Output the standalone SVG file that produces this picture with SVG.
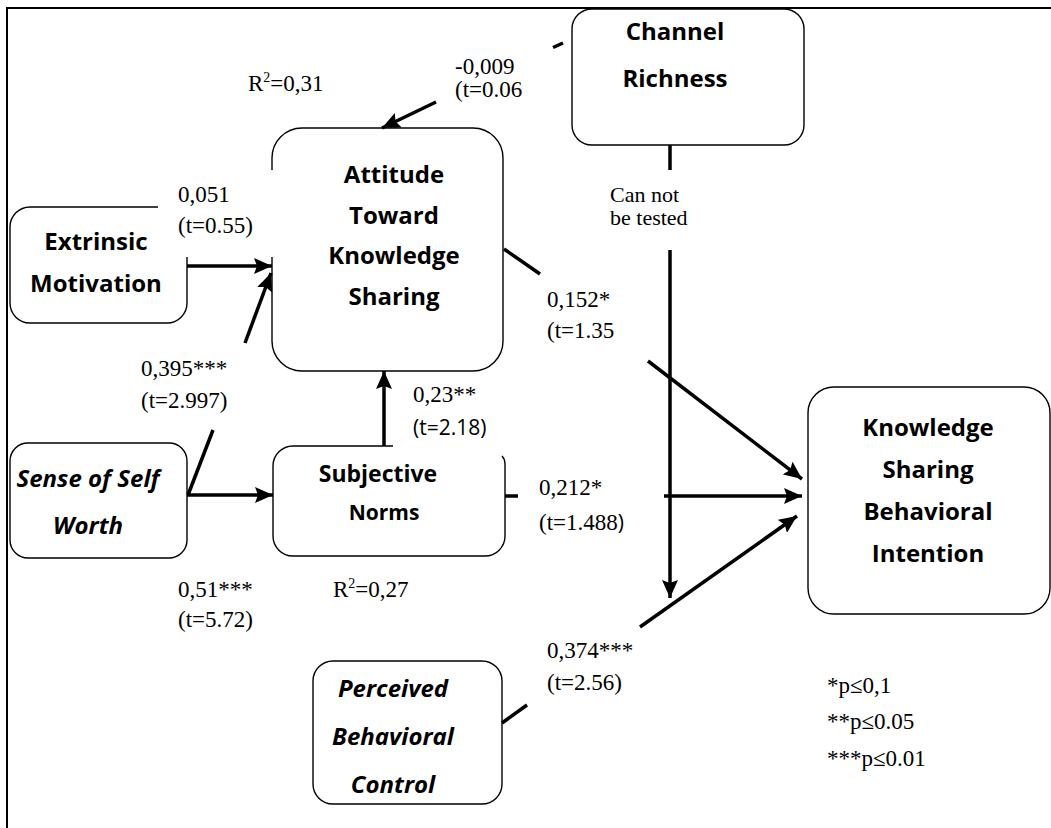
<svg xmlns="http://www.w3.org/2000/svg" width="1051" height="828" viewBox="0 0 1051 828">
<style>
.box{fill:#fff;stroke:#000;stroke-width:1.4}
.brd{fill:none;stroke:#000;stroke-width:1.4}
.lbl{font-family:"Open Sans","Noto Sans",sans-serif;font-weight:700;font-size:24px;fill:#000;text-anchor:middle}
.it{font-style:italic}
.num{font-family:"Liberation Serif","Times New Roman",serif;font-size:23px;fill:#000}
.sans{font-family:"Open Sans","Noto Sans",sans-serif;font-size:21px;fill:#000}
.ln{fill:none;stroke:#000;stroke-width:3.5}
.frame{fill:none;stroke:#000;stroke-width:2}
</style>
<defs>
<marker id="ah" viewBox="0 0 18 16" refX="18" refY="8" markerWidth="18" markerHeight="16" markerUnits="userSpaceOnUse" orient="auto">
<path d="M0,0 L18,8 L0,16 L3,8 z" fill="#000"/>
</marker>
</defs>
<rect width="1051" height="828" fill="#fff"/>
<path class="frame" d="M7,828 V8 H1051"/>

<g id="channel-richness">
<rect class="box" x="572" y="9" width="232" height="136" rx="20"/>
<text class="lbl" x="675" y="40">Channel</text>
<text class="lbl" x="675" y="87">Richness</text>
</g>

<g id="attitude">
<path class="brd" d="M272,170 V158 A30,30 0 0 1 302,128 H473 A30,30 0 0 1 503,158 V341 A30,30 0 0 1 473,371 H302 A30,30 0 0 1 272,341 V257"/>
<text class="lbl" x="394" y="183">Attitude</text>
<text class="lbl" x="394" y="224">Toward</text>
<text class="lbl" x="394" y="264">Knowledge</text>
<text class="lbl" x="394" y="305">Sharing</text>
</g>

<g id="extrinsic-motivation">
<path class="brd" d="M187,257 V303 A20,20 0 0 1 167,323 H30 A20,20 0 0 1 10,303 V227 A20,20 0 0 1 30,207 H158"/>
<text class="lbl" x="96" y="250">Extrinsic</text>
<text class="lbl" x="96" y="292">Motivation</text>
</g>

<g id="sense-of-self-worth">
<rect class="box" x="10" y="443" width="177" height="115" rx="18"/>
<text class="lbl it" x="88" y="487">Sense of Self</text>
<text class="lbl it" x="88" y="534">Worth</text>
</g>

<g id="subjective-norms">
<path class="brd" d="M502,456 Q505,459 505,464 V536 A20,20 0 0 1 485,556 H293 A20,20 0 0 1 273,536 V466 A20,20 0 0 1 293,446 H393"/>
<text class="lbl" x="378" y="482" style="font-size:23px">Subjective</text>
<text class="lbl" x="384" y="520" style="font-size:21px">Norms</text>
</g>

<g id="perceived-behavioral-control">
<rect class="box" x="313" y="661" width="189" height="143" rx="20"/>
<text class="lbl it" x="393" y="697">Perceived</text>
<text class="lbl it" x="393" y="745">Behavioral</text>
<text class="lbl it" x="393" y="793">Control</text>
</g>

<g id="knowledge-sharing-behavioral-intention">
<rect class="box" x="808" y="387" width="242" height="227" rx="26"/>
<text class="lbl" x="928" y="436">Knowledge</text>
<text class="lbl" x="928" y="478">Sharing</text>
<text class="lbl" x="928" y="520">Behavioral</text>
<text class="lbl" x="928" y="562">Intention</text>
</g>

<g id="connectors">
<path class="ln" d="M563,43 L553,47.5"/>
<path class="ln" d="M436,102 L382,128" marker-end="url(#ah)"/>
<path class="ln" d="M187,266 L272,266" marker-end="url(#ah)"/>
<path class="ln" d="M188,495 L213,430"/>
<path class="ln" d="M245,343 L271,273" marker-end="url(#ah)"/>
<path class="ln" d="M187,495 L273,495" marker-end="url(#ah)"/>
<path class="ln" d="M384,446 L384,371" marker-end="url(#ah)"/>
<path class="ln" d="M504,249 L540,274"/>
<path class="ln" d="M648,361 L802,479" marker-end="url(#ah)"/>
<path class="ln" d="M505,496 L518,496"/>
<path class="ln" d="M664,496 L802,496" marker-end="url(#ah)"/>
<path class="ln" d="M502,723 L527,705"/>
<path class="ln" d="M640,627 L797,516" marker-end="url(#ah)"/>
<path class="ln" d="M670,145 L670,170"/>
<path class="ln" d="M670,250 L670,598" marker-end="url(#ah)"/>
</g>

<g id="labels">
<text class="num" x="248" y="91">R<tspan dy="-9" font-size="14">2</tspan><tspan dy="9">=0,31</tspan></text>
<text class="num" x="455" y="74">-0,009</text>
<text class="num" x="455" y="97">(t=0.06</text>
<text class="num" x="178" y="202">0,051</text>
<text class="num" x="178" y="233">(t=0.55)</text>
<text class="num" x="141" y="376">0,395***</text>
<text class="num" x="141" y="408">(t=2.997)</text>
<text class="num" x="413" y="402">0,23**</text>
<text class="sans" x="413" y="435">(t=2.18)</text>
<text class="num" x="547" y="307">0,152*</text>
<text class="num" x="547" y="338">(t=1.35</text>
<text class="num" x="539" y="495">0,212*</text>
<text class="num" x="539" y="530">(t=1.488<tspan class="sans" font-size="23">)</tspan></text>
<text class="num" x="178" y="597">0,51***</text>
<text class="num" x="178" y="627">(t=5.72)</text>
<text class="num" x="333" y="597">R<tspan dy="-9" font-size="14">2</tspan><tspan dy="9">=0,27</tspan></text>
<text class="num" x="547" y="658">0,374***</text>
<text class="num" x="547" y="690">(t=2.56)</text>
<text class="num" x="610" y="202" style="font-size:22px">Can not</text>
<text class="num" x="610" y="225" style="font-size:22px">be tested</text>
<text class="num" x="827" y="693">*p≤0,1</text>
<text class="num" x="827" y="729">**p≤0.05</text>
<text class="num" x="827" y="766">***p≤0.01</text>
</g>
</svg>
